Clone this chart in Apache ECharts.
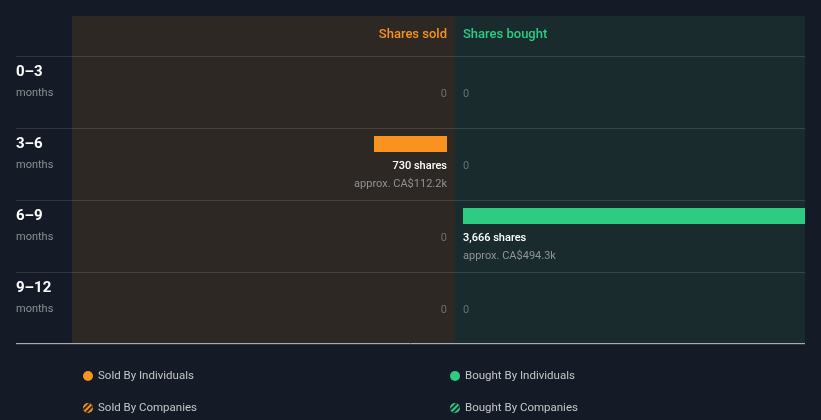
<!DOCTYPE html>
<html><head><meta charset="utf-8">
<script src="https://cdn.jsdelivr.net/npm/echarts@6/dist/echarts.min.js"></script>
<style>html,body{margin:0;padding:0;background:#151b26;}#c{width:821px;height:420px;}</style>
</head><body><div id="c"></div>
<script>
const periods = ['0–3', '3–6', '6–9', '9–12'];
const periodUnit = 'months';
const soldShares = [0, 730, 0, 0];
const soldValueK = [0, 112.2, 0, 0];
const boughtShares = [0, 0, 3666, 0];
const boughtValueK = [0, 0, 494.3, 0];
const soldCompanies = [0, 0, 0, 0];
const boughtCompanies = [0, 0, 0, 0];
const currency = 'CA$';

const ORANGE = '#f7931e', GREEN = '#2ecc82';
const FONT = 'Roboto';

function fmt(n){ return n.toLocaleString('en-US'); }

function makeRender(side, values, valuesK){
  return function(params, api){
    const i = api.value(1);
    const v = api.value(0);
    const p0 = api.coord([0, i]);
    const band = api.size([0, 1])[1];
    const top = p0[1] - band / 2;
    const align = side === 'sold' ? 'right' : 'left';
    const x0 = p0[0];
    const children = [];
    if (v > 0) {
      const p1 = api.coord([v, i]);
      const xa = Math.min(p0[0], p1[0]), xb = Math.max(p0[0], p1[0]);
      children.push({type:'rect', shape:{x:xa, y:top+8, width:xb-xa, height:16},
        style:{fill: side === 'sold' ? ORANGE : GREEN}});
      children.push({type:'text', style:{x:x0, y:top+38.5, text: fmt(v) + ' shares', align:align, verticalAlign:'middle',
        fill:'#ffffff', font:'500 11px ' + FONT}});
      children.push({type:'text', style:{x:x0, y:top+56.5, text: 'approx. ' + currency + valuesK[i].toFixed(1) + 'k', align:align, verticalAlign:'middle',
        fill:'#8f9396', font:'400 11px ' + FONT}});
    } else {
      children.push({type:'text', style:{x:x0, y:top+38, text:'0', align:align, verticalAlign:'middle',
        fill:'#6a6e70', font:'400 11px ' + FONT}});
    }
    return {type:'group', children: children};
  };
}

const chart = echarts.init(document.getElementById('c'));
const hiddenBits = {axisLine:{show:false}, axisTick:{show:false}, axisLabel:{show:false}, splitLine:{show:false}};
const catAxis = (gi) => Object.assign({type:'category', gridIndex:gi, data:periods, inverse:true, show:false}, hiddenBits);
chart.setOption({
  backgroundColor:'#151b26',
  textStyle:{fontFamily:FONT},
  animation:false,
  tooltip:{show:false},
  graphic:[
    {type:'rect', z:-10, shape:{x:72, y:16, width:383, height:327}, style:{fill:'#2d2823'}, silent:true},
    {type:'rect', z:-10, shape:{x:455, y:16, width:350, height:327}, style:{fill:'#1a2b2e'}, silent:true},
    {type:'line', z:10, shape:{x1:16, y1:343.5, x2:805, y2:343.5}, style:{stroke:'#a7abb0', lineWidth:1}, silent:true},
    {type:'text', z:10, style:{x:447, y:35, text:'Shares sold', align:'right', verticalAlign:'middle', fill:ORANGE, font:'500 13px ' + FONT}},
    {type:'text', z:10, style:{x:463, y:35, text:'Shares bought', align:'left', verticalAlign:'middle', fill:GREEN, font:'500 13px ' + FONT}}
  ],
  grid:[
    {left:72, width:375, top:56, height:288},
    {left:463, width:342, top:56, height:288},
    {left:16, width:789, top:56, height:288}
  ],
  xAxis:[
    Object.assign({type:'value', gridIndex:0, min:0, max:3750, inverse:true, show:false}, hiddenBits),
    Object.assign({type:'value', gridIndex:1, min:0, max:3666, show:false}, hiddenBits),
    Object.assign({type:'category', gridIndex:2, data:['all'], show:false}, hiddenBits)
  ],
  yAxis:[
    catAxis(0), catAxis(1),
    {type:'category', gridIndex:2, data:periods, inverse:true, axisTick:{show:false}, axisLine:{show:false},
      splitLine:{show:true, lineStyle:{color:'rgba(255,255,255,0.12)', width:1}},
      axisLabel:{inside:true, margin:0, align:'left', padding:[0,0,18,0],
        formatter: (v) => '{a|' + v + '}\n{b|' + periodUnit + '}',
        rich:{a:{fontSize:15, fontWeight:'bold', color:'#ffffff', lineHeight:21, fontFamily:FONT},
              b:{fontSize:11, color:'#8b8f94', lineHeight:21, fontFamily:FONT}}}}
  ],
  legend:[
    {orient:'vertical', left:78, top:365, itemGap:20, itemWidth:10, itemHeight:10,
      textStyle:{color:'#c4c6c9', fontSize:11.5, fontFamily:FONT},
      data:[{name:'Sold By Individuals', icon:'circle'}, {name:'Sold By Companies', icon:'circle'}]},
    {orient:'vertical', left:445, top:365, itemGap:20, itemWidth:10, itemHeight:10,
      textStyle:{color:'#c4c6c9', fontSize:11.5, fontFamily:FONT},
      data:[{name:'Bought By Individuals', icon:'circle'}, {name:'Bought By Companies', icon:'circle'}]}
  ],
  series:[
    {name:'Sold By Individuals', type:'custom', xAxisIndex:0, yAxisIndex:0, itemStyle:{color:ORANGE},
      renderItem: makeRender('sold', soldShares, soldValueK),
      data: soldShares.map((v, i) => [v, i])},
    {name:'Sold By Companies', type:'bar', xAxisIndex:0, yAxisIndex:0, barWidth:16,
      itemStyle:{color:ORANGE, decal:{symbol:'rect', symbolSize:1, dashArrayX:[1,0], dashArrayY:[2,2], rotation:-Math.PI/4, color:'#2d2823'}},
      data: soldCompanies},
    {name:'Bought By Individuals', type:'custom', xAxisIndex:1, yAxisIndex:1, itemStyle:{color:GREEN},
      renderItem: makeRender('bought', boughtShares, boughtValueK),
      data: boughtShares.map((v, i) => [v, i])},
    {name:'Bought By Companies', type:'bar', xAxisIndex:1, yAxisIndex:1, barWidth:16,
      itemStyle:{color:GREEN, decal:{symbol:'rect', symbolSize:1, dashArrayX:[1,0], dashArrayY:[2,2], rotation:-Math.PI/4, color:'#1a2b2e'}},
      data: boughtCompanies}
  ]
});
</script></body></html>
